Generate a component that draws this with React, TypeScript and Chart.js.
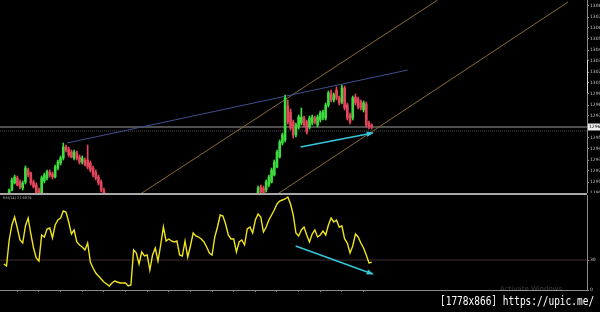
import React, { useEffect, useRef } from "react";
import { Chart, registerables } from "chart.js";

Chart.register(...registerables);

// ---------- data ----------
const X_MIN = -1.4;
const X_MAX = 215.6;

// left visible run of candles starts at bar 2
const RUN_A_START = 2;
const OPEN_A = [1289.7, 1290.3, 1291.0, 1291.5, 1291.1, 1290.5, 1291.1, 1292.3, 1292.0, 1291.1,
  1290.8, 1290.3, 1289.9, 1291.2, 1291.5, 1292.1, 1291.9, 1291.6, 1292.5, 1293.0,
  1293.5, 1294.6, 1294.4, 1294.1, 1293.5, 1294.0, 1293.6, 1293.1, 1293.3, 1293.3,
  1293.0, 1292.5, 1292.1, 1291.6, 1291.1, 1290.3];
const HIGH_A = [1290.4, 1291.5, 1291.8, 1291.7, 1291.3, 1291.2, 1292.7, 1292.5, 1292.1, 1291.3,
  1291.0, 1290.5, 1291.7, 1292.0, 1292.3, 1292.3, 1292.1, 1292.8, 1293.3, 1293.7,
  1295.0, 1294.8, 1294.6, 1294.3, 1294.3, 1294.2, 1293.8, 1293.7, 1293.5, 1294.8,
  1293.2, 1292.7, 1292.3, 1291.8, 1291.3, 1290.5];
const LOW_A = [1289.5, 1290.2, 1290.9, 1290.7, 1290.4, 1290.3, 1290.9, 1291.6, 1290.8, 1290.5,
  1289.8, 1289.4, 1289.7, 1291.0, 1291.3, 1291.6, 1291.4, 1291.5, 1292.3, 1292.8,
  1293.3, 1294.1, 1293.6, 1293.5, 1293.3, 1293.3, 1292.9, 1292.9, 1292.7, 1292.4,
  1292.1, 1291.6, 1291.3, 1290.8, 1290.1, 1289.5];
const CLOSE_A = [1290.3, 1291.3, 1291.6, 1290.8, 1290.6, 1291.0, 1292.5, 1291.8, 1291.0, 1290.6,
  1290.0, 1289.6, 1291.5, 1291.8, 1292.1, 1291.8, 1291.6, 1292.6, 1293.1, 1293.5,
  1294.6, 1294.3, 1293.8, 1293.6, 1294.1, 1293.5, 1293.1, 1293.5, 1292.8, 1292.6,
  1292.3, 1291.8, 1291.5, 1291.0, 1290.3, 1289.7];

// right visible run of candles starts at bar 94
const RUN_B_START = 94;
const OPEN_B = [1289.9, 1290.6, 1290.5, 1290.3, 1290.8, 1291.1, 1291.8, 1292.6, 1293.6, 1295.0,
  1295.3, 1298.7, 1298.1, 1297.1, 1295.8, 1296.6, 1297.0, 1297.5, 1297.1, 1296.6,
  1297.0, 1297.5, 1296.8, 1297.3, 1297.5, 1297.5, 1298.8, 1300.0, 1299.3, 1300.3,
  1299.5, 1299.1, 1300.5, 1298.8, 1297.8, 1297.5, 1299.6, 1299.4, 1299.1, 1298.3,
  1298.9, 1297.0, 1296.8];
const HIGH_B = [1290.7, 1290.8, 1290.7, 1291.3, 1291.8, 1292.5, 1293.3, 1294.3, 1295.3, 1296.0,
  1299.8, 1299.3, 1298.4, 1297.3, 1297.0, 1297.8, 1298.5, 1297.7, 1297.3, 1297.7,
  1297.8, 1297.7, 1297.8, 1298.2, 1298.3, 1299.0, 1300.2, 1300.3, 1300.0, 1300.6,
  1299.7, 1300.8, 1300.7, 1299.0, 1298.0, 1299.7, 1299.9, 1299.6, 1299.3, 1299.2,
  1299.1, 1297.2, 1296.9];
const LOW_B = [1289.7, 1289.9, 1289.8, 1290.1, 1290.6, 1291.0, 1291.7, 1292.5, 1293.5, 1294.8,
  1295.1, 1296.9, 1296.3, 1295.5, 1295.6, 1296.4, 1296.8, 1296.6, 1295.9, 1296.4,
  1296.8, 1296.9, 1296.6, 1297.1, 1297.3, 1297.3, 1298.6, 1299.1, 1299.1, 1299.3,
  1298.8, 1298.9, 1298.3, 1297.3, 1296.9, 1297.3, 1298.8, 1298.4, 1298.3, 1298.1,
  1296.6, 1296.4, 1296.4];
const CLOSE_B = [1290.5, 1290.1, 1290.0, 1291.1, 1291.6, 1292.3, 1293.1, 1294.1, 1295.1, 1295.8,
  1299.5, 1297.1, 1296.5, 1295.8, 1296.8, 1297.6, 1297.6, 1296.8, 1296.1, 1297.5,
  1297.6, 1297.1, 1297.6, 1298.0, 1298.1, 1298.8, 1300.0, 1299.3, 1299.8, 1299.5,
  1299.0, 1300.5, 1298.5, 1297.5, 1297.1, 1299.5, 1299.0, 1298.6, 1298.5, 1299.0,
  1296.8, 1296.6, 1296.6];

// oscillator, one value per bar (bar 0 .. 136)
const RSI = [26, 24, 50, 65, 73, 62, 50, 47, 64, 72,
  56, 42, 32, 29, 55, 53, 61, 62, 52, 65,
  70, 72, 79, 78, 68, 56, 60, 48, 45, 43,
  40, 47, 28, 22, 17, 14, 11, 8, 6, 4,
  7, 9, 8, 7, 7, 7, 4, 5, 40, 37,
  26, 38, 34, 35, 20, 35, 42, 29, 45, 63,
  49, 51, 49, 48, 49, 35, 34, 49, 33, 44,
  57, 54, 53, 51, 48, 43, 37, 35, 53, 63,
  75, 74, 66, 55, 51, 51, 38, 48, 50, 45,
  61, 63, 57, 70, 76, 73, 58, 63, 70, 75,
  80, 86, 89, 90, 91, 93, 86, 75, 57, 54,
  60, 63, 55, 48, 56, 60, 53, 55, 59, 55,
  65, 72, 68, 70, 63, 64, 51, 47, 37, 44,
  56, 53, 47, 42, 35, 27, 27.7];
const RSI_LABEL = "RSI(14) 27.6879";
const RSI_LEVEL = 30;
const RSI_TICKS = [0, 30];

const PRICE_TICKS = [1308.7, 1307.6, 1306.5, 1305.4, 1304.3, 1303.2, 1302.1, 1301.0, 1299.9,
  1298.8, 1297.7, 1296.6, 1295.5, 1294.4, 1293.3, 1292.2, 1291.1, 1290.0];
const PRICE_MIN = 1290.0;
const PRICE_MAX = 1309.3;
const CURRENT_PRICE = 1296.6;
const ASK_PRICE = 1296.2;
const TIME_TICK_BARS = [5, 13, 21, 29, 37, 45, 53, 61, 69, 77, 85, 93, 101, 109, 117, 125, 133];

// drawn objects (bar index, value)
const BLUE_LINE = [{ x: 23.4, y: 1295.0 }, { x: 149.3, y: 1302.3 }];
const CHANNEL_UPPER = [{ x: 50.5, y: 1289.9 }, { x: 160.4, y: 1309.3 }];
const CHANNEL_LOWER = [{ x: 101.2, y: 1289.9 }, { x: 208.6, y: 1309.1 }];
const PRICE_ARROW = [{ x: 109.7, y: 1294.6 }, { x: 136.4, y: 1296.0 }];
const RSI_ARROW = [{ x: 107.9, y: 44 }, { x: 136.4, y: 16 }];

// ---------- styles ----------
const GREEN = "#3fdc3f";
const RED = "#e4475b";
const AXIS = "#8c8c8c";

function buildRun(start: number, O: number[], H: number[], L: number[], C: number[]) {
  return O.map((o, k) => ({ x: start + k, o, h: H[k], l: L[k], c: C[k] }));
}

const arrowPlugin = {
  id: "arrowHeads",
  afterDatasetsDraw(chart: any) {
    const ctx = chart.ctx;
    chart.data.datasets.forEach((ds: any, i: number) => {
      if (!ds.arrow) return;
      const pts = chart.getDatasetMeta(i).data;
      if (pts.length < 2) return;
      const a = pts[pts.length - 2];
      const b = pts[pts.length - 1];
      const ang = Math.atan2(b.y - a.y, b.x - a.x);
      const L = 6, W = 2.6;
      const c = Math.cos(ang), s = Math.sin(ang);
      ctx.save();
      ctx.fillStyle = ds.borderColor;
      ctx.beginPath();
      ctx.moveTo(b.x + c * 1, b.y + s * 1);
      ctx.lineTo(b.x - L * c + W * s, b.y - L * s - W * c);
      ctx.lineTo(b.x - L * c - W * s, b.y - L * s + W * c);
      ctx.closePath();
      ctx.fill();
      ctx.restore();
    });
  },
};

const priceBoxPlugin = {
  id: "priceBox",
  afterDraw(chart: any) {
    const y = chart.scales.y.getPixelForValue(CURRENT_PRICE);
    const x = chart.chartArea.right + 1;
    const ctx = chart.ctx;
    ctx.save();
    ctx.fillStyle = "#f0f0f0";
    ctx.fillRect(x, y - 3.5, 13, 7);
    ctx.fillStyle = "#000";
    ctx.font = "4.5px 'DejaVu Sans'";
    ctx.textBaseline = "middle";
    ctx.fillText(CURRENT_PRICE.toFixed(1), x + 1, y + 0.3);
    ctx.restore();
  },
};

function fixWidth(s: any) {
  s.width = 13;
  s.paddingTop = 0;
  s.paddingBottom = 0;
}

export default function App() {
  const topRef = useRef<HTMLCanvasElement>(null);
  const botRef = useRef<HTMLCanvasElement>(null);

  useEffect(() => {
    const candles = [
      ...buildRun(RUN_A_START, OPEN_A, HIGH_A, LOW_A, CLOSE_A),
      ...buildRun(RUN_B_START, OPEN_B, HIGH_B, LOW_B, CLOSE_B),
    ];
    const colors = candles.map((c) => (c.c >= c.o ? GREEN : RED));
    const lineDs = (data: any[], color: string, width: number, extra: any = {}) => ({
      type: "line",
      data,
      borderColor: color,
      borderWidth: width,
      pointRadius: 0,
      tension: 0,
      ...extra,
    });

    const top = new Chart(topRef.current!, {
      type: "bar",
      data: {
        datasets: [
          lineDs(PRICE_ARROW, "#35c6d8", 1.6, { arrow: true }),
          {
            type: "bar",
            data: candles.map((c) => ({ x: c.x, y: [Math.min(c.o, c.c), Math.max(c.o, c.c)] })),
            backgroundColor: colors,
            barThickness: 2,
            grouped: false,
            borderWidth: 0,
          },
          {
            type: "bar",
            data: candles.map((c) => ({ x: c.x, y: [c.l, c.h] })),
            backgroundColor: colors,
            barThickness: 1,
            grouped: false,
            borderWidth: 0,
          },
          lineDs(BLUE_LINE, "#41508e", 1),
          lineDs(CHANNEL_UPPER, "#8a6b36", 1),
          lineDs(CHANNEL_LOWER, "#8a6b36", 1),
          lineDs([{ x: X_MIN, y: CURRENT_PRICE }, { x: X_MAX, y: CURRENT_PRICE }], "#9c9c9c", 1),
          lineDs([{ x: X_MIN, y: ASK_PRICE }, { x: X_MAX, y: ASK_PRICE }], "#4a4a4a", 1, { borderDash: [1, 1] }),
        ] as any,
      },
      options: {
        animation: false,
        responsive: false,
        maintainAspectRatio: false,
        layout: { padding: 0 },
        plugins: { legend: { display: false }, tooltip: { enabled: false } },
        scales: {
          x: { type: "linear", min: X_MIN, max: X_MAX, display: false, offset: false },
          y: {
            position: "right",
            min: PRICE_MIN,
            max: PRICE_MAX,
            afterBuildTicks: (s: any) => { s.ticks = PRICE_TICKS.map((v) => ({ value: v })); },
            afterFit: fixWidth,
            ticks: {
              font: { size: 4.5, family: "DejaVu Sans" },
              color: "#c4c4c4",
              padding: 1,
              callback: (v: any) => Number(v).toFixed(1),
            },
            grid: { drawOnChartArea: false, tickLength: 2, color: AXIS },
            border: { color: AXIS, width: 1 },
          },
        },
      } as any,
      plugins: [arrowPlugin, priceBoxPlugin],
    });

    const bot = new Chart(botRef.current!, {
      type: "line",
      data: {
        datasets: [
          lineDs(RSI_ARROW, "#35c6d8", 1.6, { arrow: true }),
          lineDs(RSI.map((v, i) => ({ x: i, y: v })), "#f0e41c", 1.4),
          lineDs([{ x: X_MIN, y: RSI_LEVEL }, { x: X_MAX, y: RSI_LEVEL }], "#3e2e2e", 1),
        ] as any,
      },
      options: {
        animation: false,
        responsive: false,
        maintainAspectRatio: false,
        layout: { padding: 0 },
        plugins: { legend: { display: false }, tooltip: { enabled: false } },
        scales: {
          x: {
            type: "linear",
            min: X_MIN,
            max: X_MAX,
            afterBuildTicks: (s: any) => { s.ticks = TIME_TICK_BARS.map((v) => ({ value: v })); },
            ticks: { display: false },
            grid: { drawOnChartArea: false, tickLength: 2, color: "#777" },
            border: { color: AXIS, width: 1 },
          },
          y: {
            position: "right",
            min: 0,
            max: 95,
            afterBuildTicks: (s: any) => { s.ticks = RSI_TICKS.map((v) => ({ value: v })); },
            afterFit: fixWidth,
            ticks: { font: { size: 4.5, family: "DejaVu Sans" }, color: "#c4c4c4", padding: 1 },
            grid: { drawOnChartArea: false, tickLength: 2, color: AXIS },
            border: { color: AXIS, width: 1 },
          },
        },
      } as any,
      plugins: [arrowPlugin],
    });

    return () => {
      top.destroy();
      bot.destroy();
    };
  }, []);

  return (
    <div style={{ position: "fixed", left: 0, top: 0, width: 600, height: 312, background: "#000", overflow: "hidden" }}>
      <canvas ref={topRef} width={600} height={193} style={{ position: "absolute", left: 0, top: 0, width: 600, height: 193 }} />
      <div style={{ position: "absolute", left: 586.5, top: 60, width: 1.5, height: 33, background: "#d8d8d8" }} />
      <div style={{ position: "absolute", left: 0, top: 193, width: 587, height: 2, background: "#a9a9a9" }} />
      <canvas ref={botRef} width={600} height={97} style={{ position: "absolute", left: 0, top: 195, width: 600, height: 97 }} />
      <div style={{ position: "absolute", left: 3, top: 196, font: "3.5px 'DejaVu Sans'", color: "#b8b8b8", whiteSpace: "nowrap" }}>{RSI_LABEL}</div>
      <div style={{ position: "absolute", left: 500, top: 285, font: "7px 'DejaVu Sans'", color: "rgba(255,255,255,0.22)", whiteSpace: "nowrap" }}>Activate Windows</div>
      <div style={{ position: "absolute", left: 440, top: 294, font: "12px 'DejaVu Sans Mono'", color: "#fff", whiteSpace: "nowrap", transform: "scaleX(0.79)", transformOrigin: "left top" }}>[1778x866] https://upic.me/</div>
    </div>
  );
}
